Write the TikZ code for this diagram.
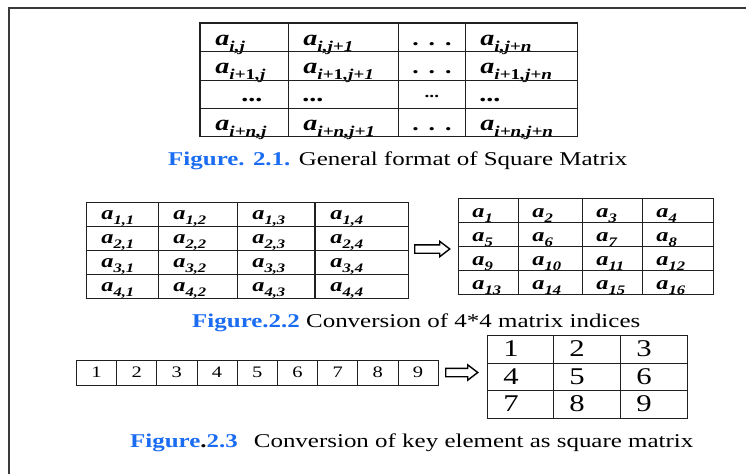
\documentclass[tikz,border=0pt]{standalone}
\usepackage{fontspec}
\setmainfont{Liberation Serif}[FakeStretch=1.28]
\usetikzlibrary{positioning,shapes.arrows}
\definecolor{figblue}{HTML}{1A6CF2}
\definecolor{frame}{HTML}{3A3A3A}
\definecolor{rule}{HTML}{202020}

% matrix entry: a with a lowered index
\newcommand\ent[1]{a\raisebox{-0.28em}{\subsz#1}}
\newcommand\dts{\mbox{.\,\,\,.\,\,\,.}}
\newcommand\bdts{\textbf{...}}
\newcommand\sdts{\mbox{\raisebox{0.2em}{\fontsize{15}{15}\selectfont...}}}

\tikzset{
  cell/.style={
    draw=rule,
    line width=0.7pt,
    anchor=north west,
    inner ysep=0pt,
    align=left,
  },
  big cell/.style={
    cell,
    inner xsep=15pt,
    text height=22pt,
    text depth=6.25pt,
    font=\fontsize{22}{24}\selectfont\bfseries\itshape\def\subsz{\fontsize{15}{15}\selectfont},
  },
  index cell/.style={
    cell,
    inner xsep=15pt,
    text height=17pt,
    text depth=7pt,
    font=\fontsize{19}{21}\selectfont\bfseries\itshape\def\subsz{\fontsize{13}{13}\selectfont},
  },
  flat cell/.style={
    cell,
    inner xsep=14pt,
    text height=19pt,
    text depth=5pt,
    font=\fontsize{19}{21}\selectfont\bfseries\itshape\def\subsz{\fontsize{13}{13}\selectfont},
  },
  key cell/.style={
    cell,
    inner xsep=0pt,
    minimum width=40.2pt,
    align=center,
    text height=17pt,
    text depth=8pt,
    font=\fontsize{16}{18}\selectfont,
  },
  square cell/.style={
    cell,
    inner xsep=16pt,
    text height=21pt,
    text depth=6.67pt,
    font=\fontsize{24}{26}\selectfont,
  },
  conv arrow/.style={
    single arrow,
    draw=black,
    line width=1.4pt,
    fill=white,
    inner xsep=0pt,
    inner ysep=3.5pt,
    single arrow head extend=3.5pt,
    single arrow tip angle=75,
  },
  caption text/.style={
    anchor=base west,
    inner sep=0pt,
    text=black,
    font=\fontsize{19.5}{22}\selectfont,
  },
  frame line/.style={
    draw=frame,
    line width=1.6pt,
  },
}

\begin{document}
\begin{tikzpicture}[x=1pt, y=-1pt]
  \useasboundingbox (0,0) rectangle (746,474);

  % --- Page frame ---
  \draw[frame line] (9,474) -- (9,8) -- (746,8);

  % --- Figure 2.1: general square matrix ---
  \foreach \r/\y/\ea/\eb/\ec/\ed in {
      1/23/{\ent{i,j}}/{\ent{i,j+1}}/{\dts}/{\ent{i,j+n}},
      2/51.25/{\ent{i\textup{+1},j}}/{\ent{i\textup{+1},j+1}}/{\dts}/{\ent{i\textup{+1},j+n}},
      3/79.5/{\hspace*{27pt}\bdts}/{\bdts}/{\sdts}/{\bdts},
      4/107.75/{\ent{i+n,j}}/{\ent{i+n,j+1}}/{\dts}/{\ent{i+n,j+n}}} {
    \node[big cell, text width=58pt] (m1-\r-1) at (200,\y) {\ea};
    \node[big cell, text width=80pt] (m1-\r-2) at (288,\y) {\eb};
    \node[big cell, inner xsep=3.5pt, text width=60pt, align=center, font=\fontsize{20}{24}\selectfont\bfseries\upshape] (m1-\r-3) at (398,\y) {\ec};
    \node[big cell, text width=82pt] (m1-\r-4) at (465,\y) {\ed};
  }
  \draw[rule, line width=1.4pt] (m1-1-1.north west) rectangle (m1-4-4.south east);

  \node[caption text] (cap1) at (168,165)
    {\textcolor{figblue}{\bfseries Figure. 2.1.} General format of Square Matrix};

  % --- Figure 2.2: 4*4 indices ---
  \foreach \r in {1,...,4} {
    \foreach \c/\x/\w in {1/86/72, 2/158/79, 3/237/78, 4/315/93} {
      \pgfmathsetmacro\ty{202+24*(\r-1)}
      \pgfmathsetmacro\tw{\w-30}
      \node[index cell, text width=\tw pt] (m2-\r-\c) at (\x,\ty) {\ent{\r,\c}};
    }
  }
  \draw[rule, line width=1.5pt] (m2-1-4.north west) -- (m2-4-4.south west);

  \node[conv arrow, minimum height=35pt] (arr1) at (429.5,249) {};

  \foreach \r in {1,...,4} {
    \foreach \c/\x/\w in {1/458/60, 2/518/64, 3/582/60, 4/642/71} {
      \pgfmathsetmacro\ty{198+24*(\r-1)}
      \pgfmathsetmacro\tw{\w-28}
      \pgfmathtruncatemacro\k{4*(\r-1)+\c}
      \node[flat cell, text width=\tw pt] (m3-\r-\c) at (\x,\ty) {\ent{\k}};
    }
  }

  \node[caption text] (cap2) at (192,327)
    {\textcolor{figblue}{\bfseries Figure.2.2} Conversion of 4*4 matrix indices};

  % --- Figure 2.3: key vector to square matrix ---
  \foreach \c in {1,...,9} {
    \node[key cell] (v\c) at ({76+40.2*(\c-1)},360) {\c};
  }

  \node[conv arrow, minimum height=32pt] (arr2) at (459,372.5) {};

  \foreach \r in {1,2,3} {
    \foreach \c/\x/\w in {1/487/66, 2/553/67, 3/620/67} {
      \pgfmathsetmacro\ty{335+27.67*(\r-1)}
      \pgfmathsetmacro\tw{\w-32}
      \pgfmathtruncatemacro\k{3*(\r-1)+\c}
      \node[square cell, text width=\tw pt] (m5-\r-\c) at (\x,\ty) {\k};
    }
  }

  \node[caption text] (cap3) at (130,447)
    {\textbf{\textcolor{figblue}{Figure}.\textcolor{figblue}{2.3}}\hspace{0.5em} Conversion of key element as square matrix};

\end{tikzpicture}
\end{document}
